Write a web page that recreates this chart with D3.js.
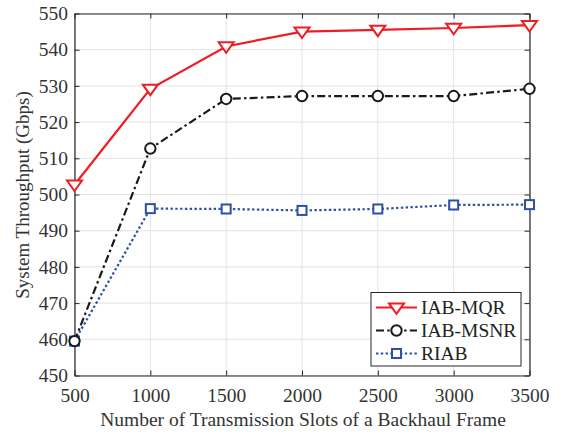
<!DOCTYPE html>
<html><head><meta charset="utf-8">
<script src="https://cdn.jsdelivr.net/npm/d3@7"></script>
<style>body{margin:0;background:#fff}svg{display:block}text{font-family:"Liberation Serif","Times New Roman",serif}</style>
</head><body><svg id="c" width="561" height="434"></svg>
<script>
const slots = [500,1000,1500,2000,2500,3000,3500];
const mqr  = [502.7,529.2,540.9,545.0,545.5,546.0,546.8];
const msnr = [459.5,512.7,526.4,527.2,527.2,527.2,529.2];
const riab = [459.5,496.1,496.0,495.6,496.0,497.1,497.2];
const yTicks = [450,460,470,480,490,500,510,520,530,540,550];
const seriesNames = ["IAB-MQR","IAB-MSNR","RIAB"];

const svg = d3.select("#c");
const L=74.5,R=529.5,T=13.5,B=375.5;
const x = d3.scaleLinear().domain([500,3500]).range([L,R]);
const y = d3.scaleLinear().domain([450,550]).range([B,T]);
const ax="#262626";
const FS="19.5px";

// grid
svg.append("g").selectAll("line").data(slots).join("line")
 .attr("x1",d=>x(d)).attr("x2",d=>x(d)).attr("y1",T).attr("y2",B).attr("stroke","#e3e3e3").attr("stroke-width",1);
svg.append("g").selectAll("line").data(yTicks).join("line")
 .attr("y1",d=>y(d)).attr("y2",d=>y(d)).attr("x1",L).attr("x2",R).attr("stroke","#e3e3e3").attr("stroke-width",1);

// axes
const xa = svg.append("g").attr("transform",`translate(0,${B})`)
 .call(d3.axisBottom(x).tickValues(slots).tickFormat(d3.format("d")).tickSizeInner(-5).tickSizeOuter(0).tickPadding(12.5));
const xa2 = svg.append("g").attr("transform",`translate(0,${T})`)
 .call(d3.axisTop(x).tickValues(slots).tickFormat("").tickSizeInner(-5).tickSizeOuter(0));
const ya = svg.append("g").attr("transform",`translate(${L},0)`)
 .call(d3.axisLeft(y).tickValues(yTicks).tickFormat(d3.format("d")).tickSizeInner(-5).tickSizeOuter(0).tickPadding(6.5));
const ya2 = svg.append("g").attr("transform",`translate(${R},0)`)
 .call(d3.axisRight(y).tickValues(yTicks).tickFormat("").tickSizeInner(-5).tickSizeOuter(0));
[xa,xa2,ya,ya2].forEach(g=>{
  g.selectAll("path").attr("stroke",ax).attr("stroke-width",1.2);
  g.selectAll("line").attr("stroke",ax).attr("stroke-width",1);
  g.selectAll("text").attr("fill","#333").style("font-size",FS).style("font-family","'Liberation Serif',serif");
});

svg.append("text").attr("x",(L+R)/2+1).attr("y",425.5).attr("text-anchor","middle")
 .style("font-size",FS).attr("fill","#333").text("Number of Transmission Slots of a Backhaul Frame");
svg.append("text").attr("transform",`translate(29,${195}) rotate(-90)`).attr("text-anchor","middle")
 .style("font-size","19px").attr("fill","#333").text("System Throughput (Gbps)");

const colors = ["#ef1c24","#1a1a1a","#2f4fa8"];
const dashes = [null,"8,3.2,2.5,3.2","2.4,2.4"];
const datas = [mqr,msnr,riab];
const line = d3.line().x((d,i)=>x(slots[i])).y(d=>y(d));

function marker(g,k,cx,cy){
  if(k===0){
    const s=7.5;
    g.append("path").attr("d",`M${cx-s},${cy-s*0.55}L${cx+s},${cy-s*0.55}L${cx},${cy+s*0.85}Z`)
     .attr("fill","#fff").attr("stroke",colors[0]).attr("stroke-width",2);
  } else if(k===1){
    g.append("circle").attr("cx",cx).attr("cy",cy).attr("r",5.2).attr("fill","#fff").attr("stroke",colors[1]).attr("stroke-width",2);
  } else {
    g.append("rect").attr("x",cx-4.5).attr("y",cy-4.5).attr("width",9).attr("height",9).attr("fill","#fff").attr("stroke",colors[2]).attr("stroke-width",2);
  }
}

[2,1,0].forEach(k=>{
  const g=svg.append("g");
  g.append("path").datum(datas[k]).attr("d",line).attr("fill","none").attr("stroke",colors[k])
   .attr("stroke-width",2.2).attr("stroke-dasharray",dashes[k]);
  datas[k].forEach((v,i)=>marker(g,k,x(slots[i]),y(v)));
});

// legend
const lg=svg.append("g");
lg.append("rect").attr("x",371).attr("y",292.5).attr("width",150).attr("height",73.5).attr("fill","#fff").attr("stroke",ax).attr("stroke-width",1);
seriesNames.forEach((n,k)=>{
  const ly=307.5+k*23;
  lg.append("line").attr("x1",376).attr("x2",417).attr("y1",ly).attr("y2",ly).attr("stroke",colors[k]).attr("stroke-width",2.2).attr("stroke-dasharray",dashes[k]);
  marker(lg,k,396.5,ly);
  lg.append("text").attr("x",421).attr("y",ly+6.6).style("font-size",FS).attr("fill","#222").text(n);
});
</script></body></html>
